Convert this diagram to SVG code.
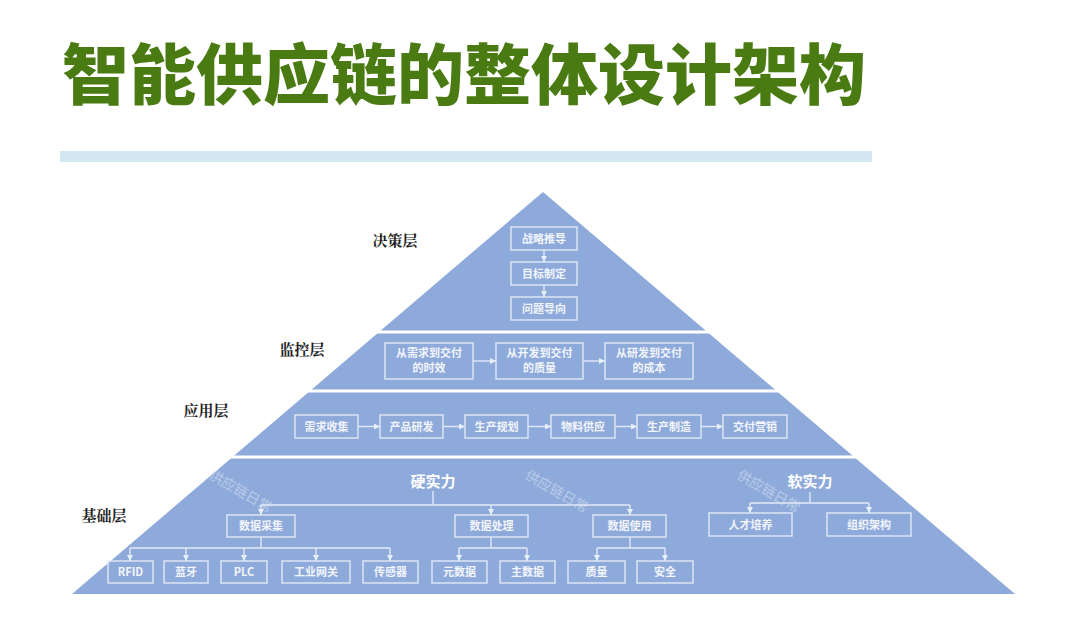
<svg xmlns="http://www.w3.org/2000/svg" width="1080" height="617" viewBox="0 0 1080 617">
<style>
.title{font-family:"Noto Sans CJK SC","Noto Sans",sans-serif;font-weight:900;font-size:66px;fill:#4a7b12}
.layer{font-family:"Noto Serif CJK SC","Noto Sans CJK SC",serif;font-weight:700;font-size:15px;fill:#1e1e1e;text-anchor:middle}
.box{fill:none;stroke:#e2e9f6;stroke-width:1.4}
.bt{font-family:"Noto Sans CJK SC","Noto Sans",sans-serif;font-weight:700;font-size:11px;fill:#f2f5fb;text-anchor:middle}
.big{font-family:"Noto Sans CJK SC","Noto Sans",sans-serif;font-weight:700;font-size:15px;fill:#ffffff;text-anchor:middle}
.wm{font-family:"Noto Sans CJK SC",serif;font-size:14px;fill:#dfe6f3;opacity:0.55}
.ln{fill:none;stroke:#e2e9f6;stroke-width:1.4}
.div{stroke:#ffffff;stroke-width:3}
</style>
<defs>
<marker id="ah" viewBox="0 0 6 6" refX="6" refY="3" markerWidth="6" markerHeight="6" orient="auto" markerUnits="userSpaceOnUse">
<path d="M0,0 L6,3 L0,6 z" fill="#e8eef8"/>
</marker>
</defs>
<rect width="1080" height="617" fill="#ffffff"/>
<g id="title">
<text class="title" x="62" y="99" textLength="804" lengthAdjust="spacingAndGlyphs">智能供应链的整体设计架构</text>
<rect x="60" y="151" width="812" height="11" fill="#d3e7f1"/>
</g>
<g id="pyramid">
<polygon points="543,192 1015,594 72,594" fill="#8eaadb"/>
<line class="div" x1="370" y1="332" x2="720" y2="332"/>
<line class="div" x1="300" y1="391" x2="790" y2="391"/>
<line class="div" x1="220" y1="457" x2="870" y2="457"/>
</g>
<g id="layer-labels">
<text class="layer" x="395" y="246">决策层</text>
<text class="layer" x="302" y="355">监控层</text>
<text class="layer" x="206" y="416">应用层</text>
<text class="layer" x="104" y="521">基础层</text>
</g>
<g id="watermarks">
<text class="wm" transform="translate(208,478) rotate(30)">供应链日常</text>
<text class="wm" transform="translate(524,478) rotate(30)">供应链日常</text>
<text class="wm" transform="translate(736,478) rotate(30)">供应链日常</text>
</g>
<g id="connectors">
<line class="ln" x1="544" y1="250" x2="544" y2="262" marker-end="url(#ah)"/>
<line class="ln" x1="544" y1="285" x2="544" y2="297" marker-end="url(#ah)"/>
<line class="ln" x1="473" y1="361" x2="496" y2="361" marker-end="url(#ah)"/>
<line class="ln" x1="583" y1="361" x2="605" y2="361" marker-end="url(#ah)"/>
<line class="ln" x1="358" y1="426.5" x2="380" y2="426.5" marker-end="url(#ah)"/>
<line class="ln" x1="443" y1="426.5" x2="465" y2="426.5" marker-end="url(#ah)"/>
<line class="ln" x1="528" y1="426.5" x2="551" y2="426.5" marker-end="url(#ah)"/>
<line class="ln" x1="615" y1="426.5" x2="637" y2="426.5" marker-end="url(#ah)"/>
<line class="ln" x1="701" y1="426.5" x2="723" y2="426.5" marker-end="url(#ah)"/>
<line class="ln" x1="433" y1="491" x2="433" y2="505"/>
<line class="ln" x1="261" y1="505" x2="630" y2="505"/>
<line class="ln" x1="261" y1="505" x2="261" y2="515" marker-end="url(#ah)"/>
<line class="ln" x1="491" y1="505" x2="491" y2="515" marker-end="url(#ah)"/>
<line class="ln" x1="630" y1="505" x2="630" y2="515" marker-end="url(#ah)"/>
<line class="ln" x1="261" y1="537" x2="261" y2="548"/>
<line class="ln" x1="130" y1="548" x2="390" y2="548"/>
<line class="ln" x1="130" y1="548" x2="130" y2="561" marker-end="url(#ah)"/>
<line class="ln" x1="186" y1="548" x2="186" y2="561" marker-end="url(#ah)"/>
<line class="ln" x1="244" y1="548" x2="244" y2="561" marker-end="url(#ah)"/>
<line class="ln" x1="316" y1="548" x2="316" y2="561" marker-end="url(#ah)"/>
<line class="ln" x1="390" y1="548" x2="390" y2="561" marker-end="url(#ah)"/>
<line class="ln" x1="491" y1="537" x2="491" y2="548"/>
<line class="ln" x1="459" y1="548" x2="527" y2="548"/>
<line class="ln" x1="459" y1="548" x2="459" y2="561" marker-end="url(#ah)"/>
<line class="ln" x1="527" y1="548" x2="527" y2="561" marker-end="url(#ah)"/>
<line class="ln" x1="630" y1="537" x2="630" y2="548"/>
<line class="ln" x1="597" y1="548" x2="665" y2="548"/>
<line class="ln" x1="597" y1="548" x2="597" y2="561" marker-end="url(#ah)"/>
<line class="ln" x1="665" y1="548" x2="665" y2="561" marker-end="url(#ah)"/>
<line class="ln" x1="810" y1="492" x2="810" y2="503"/>
<line class="ln" x1="750" y1="503" x2="869" y2="503"/>
<line class="ln" x1="750" y1="503" x2="750" y2="513" marker-end="url(#ah)"/>
<line class="ln" x1="869" y1="503" x2="869" y2="513" marker-end="url(#ah)"/>
</g>
<g id="n-zlty"><rect class="box" x="511" y="227" width="66" height="23"/><text class="bt" x="544" y="242.5">战略推导</text></g>
<g id="n-mbzd"><rect class="box" x="511" y="262" width="66" height="23"/><text class="bt" x="544" y="277.5">目标制定</text></g>
<g id="n-wtdx"><rect class="box" x="511" y="297" width="66" height="23"/><text class="bt" x="544" y="312.5">问题导向</text></g>
<g id="n-sx"><rect class="box" x="385" y="343" width="88" height="36"/><text class="bt" x="429" y="357">从需求到交付</text><text class="bt" x="429" y="372">的时效</text></g>
<g id="n-zl"><rect class="box" x="496" y="343" width="87" height="36"/><text class="bt" x="539.5" y="357">从开发到交付</text><text class="bt" x="539.5" y="372">的质量</text></g>
<g id="n-cb"><rect class="box" x="605" y="343" width="88" height="36"/><text class="bt" x="649" y="357">从研发到交付</text><text class="bt" x="649" y="372">的成本</text></g>
<g id="n-xqsj"><rect class="box" x="295" y="415" width="63" height="23"/><text class="bt" x="326.5" y="430.5">需求收集</text></g>
<g id="n-cpyf"><rect class="box" x="380" y="415" width="63" height="23"/><text class="bt" x="411.5" y="430.5">产品研发</text></g>
<g id="n-scgh"><rect class="box" x="465" y="415" width="63" height="23"/><text class="bt" x="496.5" y="430.5">生产规划</text></g>
<g id="n-wlgy"><rect class="box" x="551" y="415" width="64" height="23"/><text class="bt" x="583" y="430.5">物料供应</text></g>
<g id="n-sczz"><rect class="box" x="637" y="415" width="64" height="23"/><text class="bt" x="669" y="430.5">生产制造</text></g>
<g id="n-jfyx"><rect class="box" x="723" y="415" width="64" height="23"/><text class="bt" x="755" y="430.5">交付营销</text></g>
<g id="n-ysl"><text class="big" x="433" y="487">硬实力</text></g>
<g id="n-rsl"><text class="big" x="810" y="487">软实力</text></g>
<g id="n-sjcj"><rect class="box" x="227" y="515" width="68" height="22"/><text class="bt" x="261" y="530">数据采集</text></g>
<g id="n-sjcl"><rect class="box" x="455" y="515" width="73" height="22"/><text class="bt" x="491.5" y="530">数据处理</text></g>
<g id="n-sjsy"><rect class="box" x="593" y="515" width="73" height="22"/><text class="bt" x="629.5" y="530">数据使用</text></g>
<g id="n-rcpy"><rect class="box" x="709" y="513" width="83" height="23"/><text class="bt" x="750.5" y="528.5">人才培养</text></g>
<g id="n-zzjg"><rect class="box" x="827" y="513" width="84" height="23"/><text class="bt" x="869" y="528.5">组织架构</text></g>
<g id="n-rfid"><rect class="box" x="108" y="561" width="45" height="22"/><text class="bt" x="130.5" y="576">RFID</text></g>
<g id="n-ly"><rect class="box" x="164" y="561" width="44" height="22"/><text class="bt" x="186" y="576">蓝牙</text></g>
<g id="n-plc"><rect class="box" x="221" y="561" width="46" height="22"/><text class="bt" x="244" y="576">PLC</text></g>
<g id="n-gywg"><rect class="box" x="282" y="561" width="68" height="22"/><text class="bt" x="316" y="576">工业网关</text></g>
<g id="n-cgq"><rect class="box" x="363" y="561" width="55" height="22"/><text class="bt" x="390.5" y="576">传感器</text></g>
<g id="n-ysj"><rect class="box" x="432" y="561" width="55" height="22"/><text class="bt" x="459.5" y="576">元数据</text></g>
<g id="n-zsj"><rect class="box" x="500" y="561" width="55" height="22"/><text class="bt" x="527.5" y="576">主数据</text></g>
<g id="n-zhl"><rect class="box" x="568" y="561" width="57" height="22"/><text class="bt" x="596.5" y="576">质量</text></g>
<g id="n-aq"><rect class="box" x="637" y="561" width="56" height="22"/><text class="bt" x="665" y="576">安全</text></g>
</svg>
